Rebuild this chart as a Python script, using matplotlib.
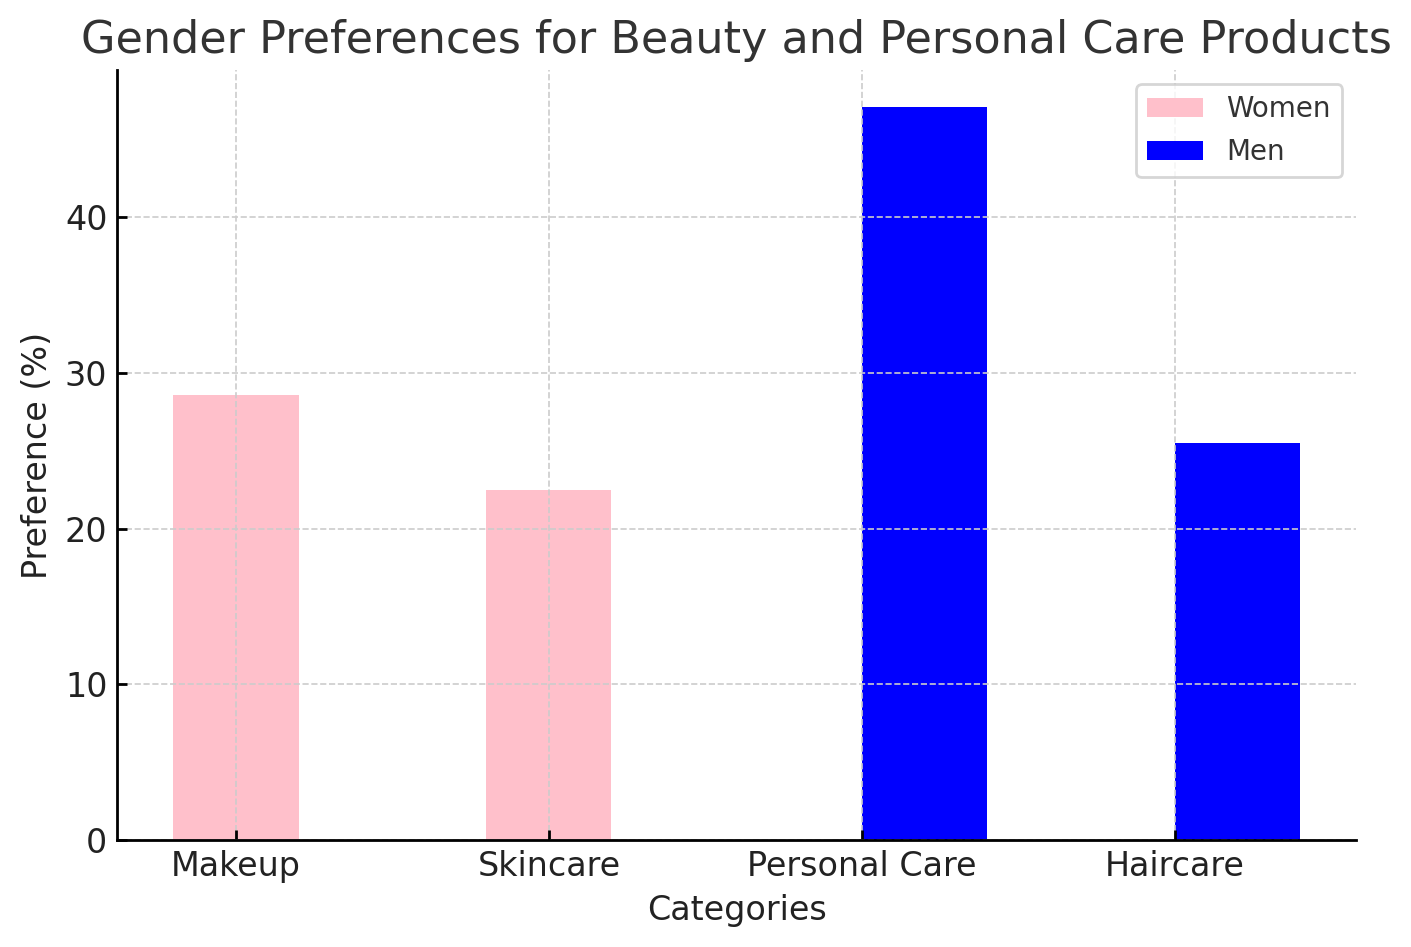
import matplotlib
matplotlib.use("Agg")
import matplotlib.pyplot as plt
import numpy as np

women_categories = ["Makeup", "Skincare"]
women_values = [28.6, 22.5]
men_categories = ["Personal Care", "Haircare"]
men_values = [47.1, 25.5]
categories = women_categories + men_categories

fig, ax = plt.subplots(figsize=(7.055, 4.735), dpi=200)
fig.subplots_adjust(left=0.083, right=0.961, top=0.926, bottom=0.113)

x = np.arange(len(categories))
ax.bar(x[:2], women_values, width=0.4, color="pink", label="Women")
ax.bar(x[2:], men_values, width=0.4, align="edge", color="blue", label="Men")

ax.set_xticks(x)
ax.set_xticklabels(categories)
ax.set_title("Gender Preferences for Beauty and Personal Care Products",
             fontsize=16, color="#333333")
ax.set_xlabel("Categories", fontsize=12, color="#222222")
ax.set_ylabel("Preference (%)", fontsize=12, color="#222222")
ax.tick_params(direction="in", labelsize=12, labelcolor="#222222", width=1.0)
ax.grid(True, linestyle="--", color="#cccccc", linewidth=0.6)
ax.spines["top"].set_visible(False)
ax.spines["right"].set_visible(False)
ax.spines["left"].set_linewidth(1.0)
ax.spines["bottom"].set_linewidth(1.0)
leg = ax.legend(loc="upper right", fontsize=10, labelcolor="#333333",
                edgecolor="#cccccc", labelspacing=0.55, handletextpad=0.85)
leg.get_frame().set_linewidth(1.0)

plt.savefig("out.png", dpi=200)
